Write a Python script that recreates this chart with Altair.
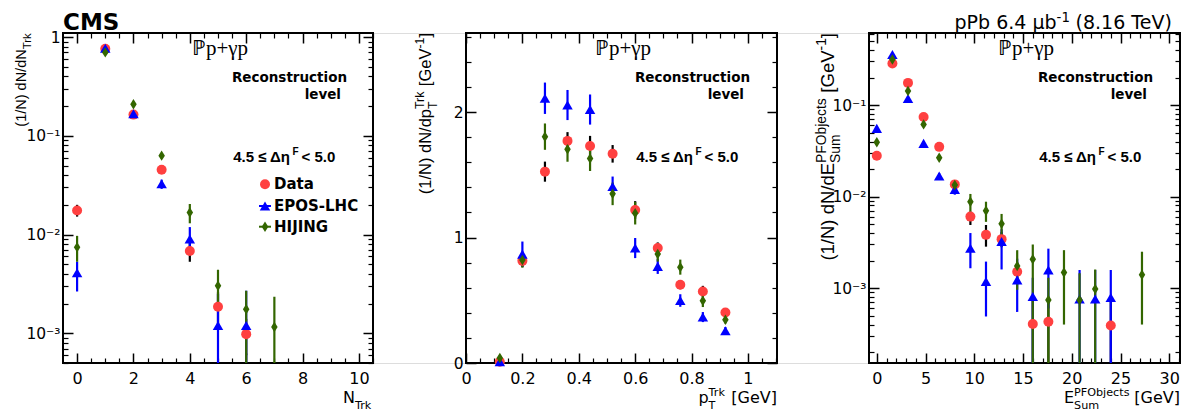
import altair as alt
import pandas as pd

# ---------------- data ----------------
# Panel 1: N_Trk
ntrk_data_x = [0, 1, 2, 3, 4, 5, 6]
ntrk_data_y = [0.0175, 0.76, 0.164, 0.0454, 0.0068, 0.00186, 0.00098]
ntrk_data_lo = [0.0152, 0.73, 0.157, 0.042, 0.0053, 0.0012, 0.0006]
ntrk_data_hi = [0.0200, 0.79, 0.171, 0.049, 0.0083, 0.0026, 0.0014]
ntrk_epos_x = [0, 1, 2, 3, 4, 5, 6]
ntrk_epos_y = [0.0041, 0.77, 0.167, 0.0327, 0.0090, 0.0012, 0.0012]
ntrk_epos_lo = [0.00265, 0.75, 0.160, 0.029, 0.0070, 1e-6, 1e-6]
ntrk_epos_hi = [0.0053, 0.79, 0.174, 0.036, 0.0119, 0.0025, 0.0027]
ntrk_hij_x = [0, 1, 2, 3, 4, 5, 6, 7]
ntrk_hij_y = [0.00745, 0.70, 0.209, 0.063, 0.0167, 0.00303, 0.00175, 0.00116]
ntrk_hij_lo = [0.0053, 0.68, 0.200, 0.059, 0.0130, 0.0017, 1e-6, 1e-6]
ntrk_hij_hi = [0.0097, 0.72, 0.218, 0.067, 0.0204, 0.0044, 0.0027, 0.00235]

# Panel 2: pT
pt_x = [0.12, 0.20, 0.28, 0.36, 0.44, 0.52, 0.60, 0.68, 0.76, 0.84, 0.92]
pt_data_y = [0.01, 0.814, 1.525, 1.77, 1.73, 1.667, 1.22, 0.916, 0.623, 0.57, 0.403]
pt_data_err = [0.005, 0.05, 0.08, 0.07, 0.08, 0.07, 0.07, 0.045, 0.035, 0.045, 0.03]
pt_epos_y = [0.01, 0.868, 2.11, 2.056, 2.02, 1.406, 0.916, 0.77, 0.498, 0.366, 0.257]
pt_epos_err = [0.01, 0.1, 0.125, 0.12, 0.12, 0.08, 0.08, 0.06, 0.05, 0.04, 0.03]
pt_hij_y = [0.04, 0.82, 1.804, 1.704, 1.63, 1.348, 1.194, 0.868, 0.764, 0.496, 0.345]
pt_hij_err = [0.02, 0.06, 0.105, 0.1, 0.1, 0.09, 0.09, 0.06, 0.06, 0.05, 0.03]

# Panel 3: E_Sum
esum_data_x = [0, 1.6, 3.2, 4.8, 6.4, 8.0, 9.6, 11.2, 12.8, 14.4, 16.0, 17.6, 24.0]
esum_data_y = [0.028, 0.285, 0.175, 0.074, 0.035, 0.0136, 0.00605, 0.00382, 0.00343, 0.00151, 0.000405, 0.00043, 0.00039]
esum_data_lo = [0.0265, 0.278, 0.170, 0.071, 0.0332, 0.0125, 0.0049, 0.00284, 0.0028, 0.0011, 1e-6, 1e-6, 1e-6]
esum_data_hi = [0.0295, 0.292, 0.180, 0.077, 0.0368, 0.0147, 0.0069, 0.0049, 0.0041, 0.0019, 0.0008, 0.0008, 0.0008]
esum_epos_x = [0, 1.6, 3.2, 4.8, 6.4, 8.0, 9.6, 11.2, 12.8, 14.4, 16.0, 17.6, 20.8, 22.4, 24.0]
esum_epos_y = [0.0557, 0.358, 0.118, 0.0382, 0.0168, 0.012, 0.00273, 0.00118, 0.00323, 0.00123, 0.00081, 0.00158, 0.00076, 0.00076, 0.00079]
esum_epos_lo = [0.052, 0.350, 0.114, 0.036, 0.0155, 0.0105, 0.00165, 0.00049, 0.0016, 0.00055, 1e-6, 0.0006, 1e-6, 1e-6, 1e-6]
esum_epos_hi = [0.059, 0.366, 0.122, 0.040, 0.0181, 0.0135, 0.0040, 0.00195, 0.0044, 0.0021, 0.0013, 0.0027, 0.00158, 0.00158, 0.00158]
esum_hij_x = [0, 1.6, 3.2, 4.8, 6.4, 8.0, 9.6, 11.2, 12.8, 14.4, 16.0, 17.6, 19.2, 20.8, 22.4, 27.2]
esum_hij_y = [0.0392, 0.315, 0.143, 0.0616, 0.0266, 0.0134, 0.0088, 0.00703, 0.00504, 0.00175, 0.00207, 0.00074, 0.00148, 0.00074, 0.00098, 0.0014]
esum_hij_lo = [0.0365, 0.307, 0.138, 0.058, 0.0245, 0.0118, 0.00686, 0.0053, 0.0038, 0.00096, 1e-6, 1e-6, 0.0004, 1e-6, 1e-6, 0.0004]
esum_hij_hi = [0.042, 0.323, 0.148, 0.065, 0.0287, 0.0150, 0.0107, 0.0088, 0.00647, 0.0026, 0.0030, 0.0013, 0.0026, 0.00145, 0.0016, 0.0025]

series_names = ["Data", "EPOS-LHC", "HIJING"]

# ---------------- styling / layout ----------------
W, H = 1117, 330
RED, BLUE, GREEN = "#ff4040", "#0000ff", "#336600"
DIAMOND = "M0,-1L0.62,0L0,1L-0.62,0Z"
ONE = pd.DataFrame({"k": [0]})

AW = {' ': 278, '(': 333, ')': 333, '/': 278, '1': 556, 'N': 722, 'd': 556, 'p': 556, 'T': 611,
      'r': 333, 'k': 500, '[': 278, ']': 278, 'G': 778, 'e': 556, 'V': 667, 'E': 667, 'S': 667,
      'u': 556, 'm': 833, 'P': 667, 'F': 611, 'O': 778, 'b': 556, 'j': 222, 'c': 500, 't': 278,
      's': 500, '-': 333}
DW = {' ': 318, '[': 390, ']': 390, 'G': 775, 'e': 615, 'V': 684, 'N': 748, 'T': 611, 'r': 411,
      'k': 579, 'p': 635, 'E': 632, 'S': 635, 'u': 634, 'm': 974, 'P': 603, 'F': 575, 'O': 787,
      'b': 635, 'j': 278, 'c': 550, 't': 392, 's': 521, '6': 636, '.': 318, '4': 636, 'μ': 636,
      '-': 361, '1': 636, '(': 390, ')': 390, '8': 636}


def tw(s, size, table):
    return sum(table.get(c, 580) for c in s) * size / 1000.0


def T(text, x, y, size, font="DejaVu Sans", weight="normal", align="left",
      baseline="alphabetic", angle=0, dx=0, dy=0):
    props = dict(text=text, font=font, fontSize=size, fontWeight=weight, align=align,
                 baseline=baseline, color="black")
    if angle:
        props["angle"] = angle
    if dx:
        props["dx"] = dx
    if dy:
        props["dy"] = dy
    return alt.Chart(ONE).mark_text(**props).encode(x=alt.value(x), y=alt.value(y))


def rich(pieces, x, y, size, font, table, angle=0, sub_k=0.38, sup_k=0.45, small_k=0.7):
    small = size * small_k
    items, cur = [], 0.0
    for p in pieces:
        kind = p[0]
        if kind == "gap":
            cur += p[1] * size
        elif kind == "n":
            items.append((p[1], size, cur, 0))
            cur += tw(p[1], size, table)
        elif kind == "sub":
            items.append((p[1], small, cur, sub_k * size))
            cur += tw(p[1], small, table)
        elif kind == "sup":
            items.append((p[1], small, cur, -sup_k * size))
            cur += tw(p[1], small, table)
        else:
            items.append((p[1], small, cur, sub_k * size))
            items.append((p[2], small, cur, -sup_k * size))
            cur += max(tw(p[1], small, table), tw(p[2], small, table))
    total = cur
    return [T(t, x, y, s, font=font, angle=angle, dx=off - total, dy=dy) for t, s, off, dy in items]


def tick_axis(orient, values, offset, size, width):
    return alt.Axis(orient=orient, values=values, offset=offset, tickSize=size, tickWidth=width,
                    tickColor="black", labels=False, domain=False, grid=False, title=None)


def df_of(x, y, lo, hi):
    return pd.DataFrame({"x": x, "y": y, "lo": lo, "hi": hi})


def panel(x0, x1, xdom, ydom, ylog, xmaj, xmin, ymaj, ymin, yexpr, series):
    xs = alt.Scale(domain=xdom, range=[x0, x1], nice=False, zero=False)
    if ylog:
        ys = alt.Scale(type="log", domain=ydom, nice=False)
    else:
        ys = alt.Scale(domain=ydom, nice=False, zero=False)
    xlab = alt.Axis(orient="bottom", values=xmaj, format="~r", ticks=False, domain=False, grid=False,
                    labelFlush=False, labelOverlap=False, labelPadding=7, labelFont="DejaVu Sans",
                    labelFontSize=16, labelColor="black", title=None)
    ykw = dict(orient="left", values=ymaj, offset=-x0, ticks=False, domain=False, grid=False,
               labelFlush=False, labelOverlap=False, labelPadding=3, labelFont="DejaVu Sans",
               labelFontSize=15.5, labelColor="black", title=None)
    if yexpr:
        ykw["labelExpr"] = yexpr
    else:
        ykw["format"] = "~r"
    ylab = alt.Axis(**ykw)
    ax = {
        "xmb": tick_axis("bottom", xmaj, -10, 10, 1.5),
        "xnb": tick_axis("bottom", xmin, -5, 5, 1.2),
        "xmt": tick_axis("top", xmaj, -10, 10, 1.5),
        "xnt": tick_axis("top", xmin, -5, 5, 1.2),
        "yml": tick_axis("left", ymaj, -x0 - 10, 10, 1.5),
        "ynl": tick_axis("left", ymin, -x0 - 5, 5, 1.2),
        "ymr": tick_axis("right", ymaj, -(W - x1) - 10, 10, 1.5),
        "ynr": tick_axis("right", ymin, -(W - x1) - 5, 5, 1.2),
    }
    frame = alt.Chart(ONE).mark_rect(filled=False, stroke="black", strokeWidth=2).encode(
        x=alt.XDatum(xdom[0], type="quantitative", scale=xs, axis=xlab),
        x2=alt.X2Datum(xdom[1]),
        y=alt.YDatum(ydom[0], type="quantitative", scale=ys, axis=ylab),
        y2=alt.Y2Datum(ydom[1]),
    )
    err_axes = [("xmb", "yml"), ("xnb", "ynl"), ("xmt", "ymr")]
    pt_axes = [("xnt", "ynr"), None, None]
    errs, pts = [], []
    for i, (df, shape, color, ecolor, size) in enumerate(series):
        xa, ya = err_axes[i]
        errs.append(alt.Chart(df).mark_rule(clip=True, color=ecolor, strokeWidth=2.2).encode(
            x=alt.X("x:Q", scale=xs, axis=ax[xa]),
            y=alt.Y("lo:Q", scale=ys, axis=ax[ya]),
            y2="hi:Q"))
        if pt_axes[i]:
            pxa, pya = ax[pt_axes[i][0]], ax[pt_axes[i][1]]
        else:
            pxa, pya = None, None
        pts.append(alt.Chart(df).mark_point(shape=shape, filled=True, size=size, color=color,
                                             opacity=1, strokeWidth=0).encode(
            x=alt.X("x:Q", scale=xs, axis=pxa),
            y=alt.Y("y:Q", scale=ys, axis=pya)))
    return alt.layer(frame, *errs, *pts).resolve_axis(x="independent", y="independent")


def log_minors(lo, hi):
    out = []
    for e in range(-5, 1):
        for k in range(2, 10):
            v = k * 10.0 ** e
            if lo <= v <= hi:
                out.append(v)
    return out


def lin_ticks(start, stop, step, exclude_step=None):
    vals, i = [], 0
    while True:
        v = round(start + i * step, 6)
        if v > stop + 1e-9:
            break
        if exclude_step is None or abs(v / exclude_step - round(v / exclude_step)) > 1e-6:
            vals.append(v)
        i += 1
    return vals


LOGEXPR = ("datum.value > 0.5 ? '1' : datum.value > 0.05 ? '10⁻¹' : "
           "datum.value > 0.005 ? '10⁻²' : '10⁻³'")

# panel geometry
P1 = (0, 310)
P2 = (403, 714)
P3 = (806, 1117)

p1 = panel(P1[0], P1[1], [-0.5, 10.5], [5e-4, 1.1], True,
           lin_ticks(0, 10, 2), lin_ticks(0, 10.5, 0.5, 2),
           [1e-3, 1e-2, 1e-1, 1], log_minors(5e-4, 1.1), LOGEXPR,
           [(df_of(ntrk_data_x, ntrk_data_y, ntrk_data_lo, ntrk_data_hi), "circle", RED, "black", 100),
            (df_of(ntrk_epos_x, ntrk_epos_y, ntrk_epos_lo, ntrk_epos_hi), "triangle-up", BLUE, BLUE, 110),
            (df_of(ntrk_hij_x, ntrk_hij_y, ntrk_hij_lo, ntrk_hij_hi), DIAMOND, GREEN, GREEN, 110)])

pt_d = df_of(pt_x, pt_data_y, [a - b for a, b in zip(pt_data_y, pt_data_err)],
             [a + b for a, b in zip(pt_data_y, pt_data_err)])
pt_e = df_of(pt_x, pt_epos_y, [a - b for a, b in zip(pt_epos_y, pt_epos_err)],
             [a + b for a, b in zip(pt_epos_y, pt_epos_err)])
pt_h = df_of(pt_x, pt_hij_y, [a - b for a, b in zip(pt_hij_y, pt_hij_err)],
             [a + b for a, b in zip(pt_hij_y, pt_hij_err)])
p2 = panel(P2[0], P2[1], [0, 1.103], [0, 2.63], False,
           lin_ticks(0, 1, 0.2), lin_ticks(0, 1.1, 0.05, 0.2),
           [0, 1, 2], lin_ticks(0, 2.6, 0.2, 1), None,
           [(pt_d, "circle", RED, "black", 100),
            (pt_e, "triangle-up", BLUE, BLUE, 110),
            (pt_h, DIAMOND, GREEN, GREEN, 110)])

p3 = panel(P3[0], P3[1], [-0.8, 31.1], [1.52e-4, 0.614], True,
           lin_ticks(0, 30, 5), lin_ticks(0, 31, 1, 5),
           [1e-3, 1e-2, 1e-1], log_minors(1.52e-4, 0.614), LOGEXPR,
           [(df_of(esum_data_x, esum_data_y, esum_data_lo, esum_data_hi), "circle", RED, "black", 100),
            (df_of(esum_epos_x, esum_epos_y, esum_epos_lo, esum_epos_hi), "triangle-up", BLUE, BLUE, 110),
            (df_of(esum_hij_x, esum_hij_y, esum_hij_lo, esum_hij_hi), DIAMOND, GREEN, GREEN, 110)])

texts = []
for x0, x1 in (P1, P2, P3):
    texts.append(T("ℙp+γp", x0 + 157, 22, 21, font="Liberation Serif", align="center"))
    texts.append(T("Reconstruction", x0 + 226.5, 48.7, 13.5, weight="bold", align="center"))
    texts.append(T("level", x0 + 278, 65.5, 13.5, weight="bold", align="right"))
    texts.append(T("4.5 ≤ Δη", x0 + 227, 128.7, 15, font="Liberation Sans", weight="bold", align="right"))
    texts.append(T("F", x0 + 229.5, 122, 10, font="Liberation Sans", weight="bold"))
    texts.append(T("< 5.0", x0 + 238.5, 128.7, 15, font="Liberation Sans", weight="bold"))

# y-axis titles (rotated)
texts += rich([("n", "(1/N) dN/dN"), ("sub", "Trk")], P1[0] - 37, 0, 14.5, "Liberation Sans", AW,
              angle=270, sub_k=0.34, small_k=0.78)
texts += rich([("n", "(1/N) dN/dp"), ("both", "T", "Trk"), ("gap", 0.3), ("n", "[GeV"), ("sup", "-1"), ("n", "]")],
              P2[0] - 35, 0, 16.5, "Liberation Sans", AW, angle=270, sub_k=0.34, sup_k=0.42, small_k=0.75)
texts += rich([("n", "(1/N) dN/dE"), ("both", "Sum", "PFObjects"), ("gap", 0.3), ("n", "[GeV"), ("sup", "-1"),
               ("n", "]")],
              P3[0] - 35, 0, 18.5, "Liberation Sans", AW, angle=270, sub_k=0.34, sup_k=0.42, small_k=0.75)

# x-axis titles
texts += rich([("n", "N"), ("sub", "Trk")], P1[1], H + 40, 16, "DejaVu Sans", DW)
texts += rich([("n", "p"), ("both", "T", "Trk"), ("gap", 0.3), ("n", "[GeV]")], P2[1], H + 40, 16,
              "DejaVu Sans", DW)
texts += rich([("n", "E"), ("both", "Sum", "PFObjects"), ("gap", 0.3), ("n", "[GeV]")], P3[1], H + 40, 16,
              "DejaVu Sans", DW)

# header texts
texts.append(T("CMS", 0, -3.5, 23, weight="bold"))
texts += rich([("n", "pPb 6.4 μb"), ("sup", "-1"), ("gap", 0.3), ("n", "(8.16 TeV)")], 1112, -4, 19,
              "DejaVu Sans", DW, sup_k=0.38)

# legend (panel 1)
leg_y = [151.3, 173, 193.7]
leg_shapes = ["circle", "triangle-up", DIAMOND]
leg_colors = [RED, BLUE, GREEN]
legend = []
for i, name in enumerate(series_names):
    if i > 0:
        legend.append(alt.Chart(ONE).mark_rule(color=leg_colors[i], strokeWidth=2).encode(
            x=alt.value(196), x2=alt.value(208), y=alt.value(leg_y[i])))
    legend.append(alt.Chart(ONE).mark_point(shape=leg_shapes[i], filled=True, size=100 if i == 0 else 110,
                                             color=leg_colors[i], opacity=1, strokeWidth=0).encode(
        x=alt.value(202), y=alt.value(leg_y[i])))
    legend.append(T(name, 211, leg_y[i], 15, weight="bold", baseline="middle"))

chart = alt.layer(p1, p2, p3, *texts, *legend).resolve_scale(
    x="independent", y="independent").resolve_axis(x="independent", y="independent").properties(
    width=W, height=H,
    autosize=alt.AutoSizeParams(type="none"),
    padding={"left": 55, "top": 25, "right": 9, "bottom": 48},
).configure_view(stroke=None).configure(background="white")

chart.save("out.html", embed_options={"renderer": "svg", "actions": False})
